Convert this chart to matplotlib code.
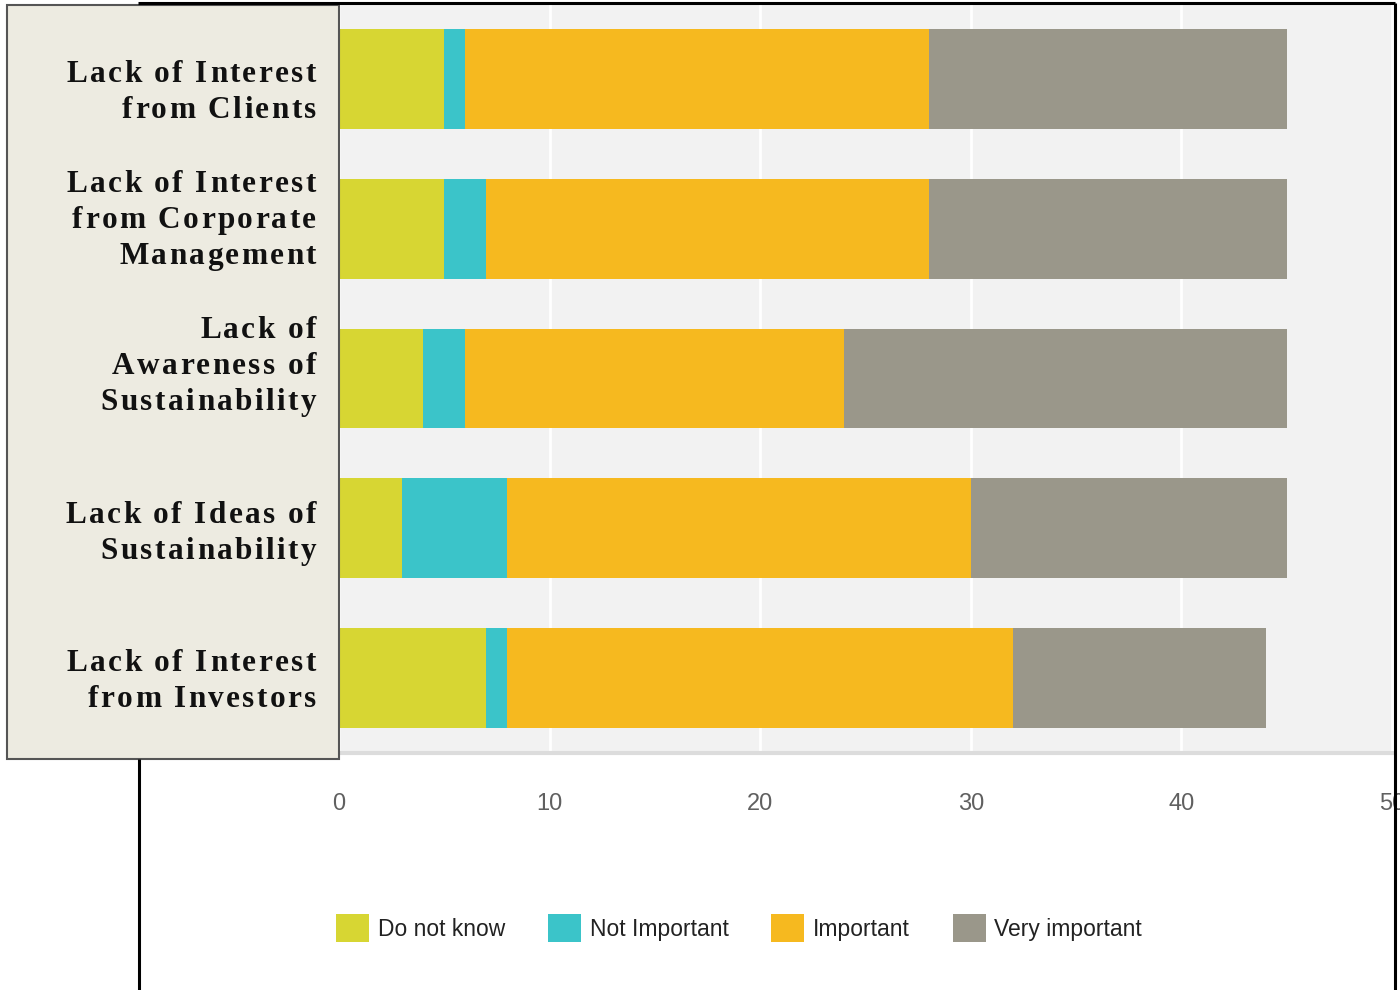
import matplotlib
matplotlib.use('Agg')
import matplotlib.pyplot as plt
from matplotlib.patches import Rectangle, Patch
from matplotlib.font_manager import FontProperties, findfont
from matplotlib.ft2font import FT2Font
import numpy as np

# data
categories = ['Lack of Interest\nfrom Clients',
              'Lack of Interest\nfrom Corporate\nManagement',
              'Lack of\nAwareness of\nSustainability',
              'Lack of Ideas of\nSustainability',
              'Lack of Interest\nfrom Investors']
series = ['Do not know', 'Not Important', 'Important', 'Very important']
do_not_know = [5, 5, 4, 3, 7]
not_important = [1, 2, 2, 5, 1]
important = [22, 21, 18, 22, 24]
very_important = [17, 17, 21, 15, 12]
colors = ['#d7d633', '#3bc4c9', '#f6b91f', '#9a978a']
xticks = [0, 10, 20, 30, 40, 50]

W, H = 1400, 990
sans = ['Liberation Sans Narrow', 'Liberation Sans', 'DejaVu Sans']

fig = plt.figure(figsize=(W / 100, H / 100), dpi=100)
fig.patch.set_facecolor('white')

# main plot area
ax = fig.add_axes([339 / W, 1 - 753 / H, 1053 / W, 749 / H])
ax.set_facecolor('#f2f2f2')
y = np.arange(len(categories))
left = np.zeros(len(categories))
for vals, c in zip([do_not_know, not_important, important, very_important], colors):
    ax.barh(y, vals, left=left, height=0.667, color=c, zorder=3)
    left += np.array(vals)

ax.set_xlim(0, 50)
ax.set_ylim(4.5, -0.5)
ax.set_yticks([])
ax.set_xticks(xticks)
ax.set_xticklabels([str(t) for t in xticks], family=sans, fontsize=17, color='#606060')
ax.tick_params(axis='x', length=0, pad=29)
ax.xaxis.grid(True, color='white', lw=2, zorder=1)
for s in ['top', 'right', 'left']:
    ax.spines[s].set_visible(False)
ax.spines['bottom'].set_color('#dcdcdc')
ax.spines['bottom'].set_linewidth(3)

# overlay in pixel coords for the label panel and the frame
pax = fig.add_axes([0, 0, 1, 1], facecolor='none')
pax.set_xlim(0, W)
pax.set_ylim(H, 0)
pax.axis('off')

pax.add_patch(Rectangle((7, 5), 332, 754, facecolor='#edebe1',
                        edgecolor='#555555', lw=1.5, zorder=2))
pax.plot([138, 1395], [3, 3], color='black', lw=2.2, solid_capstyle='butt')
pax.plot([1395, 1395], [3, H], color='black', lw=2.2, solid_capstyle='butt')
pax.plot([139, 139], [759, H], color='black', lw=2.2, solid_capstyle='butt')

# letter-spaced bold serif labels
serif = FontProperties(family='Liberation Serif', weight='bold', size=22.5)
ft = FT2Font(findfont(serif))
ft.set_size(22.5, 100)


def advance(ch):
    g = ft.load_char(ord(ch))
    return g.linearHoriAdvance / 65536.0


def spaced_text(s, xr, yb, track=2.4):
    adv = [advance(ch) for ch in s]
    x = xr - sum(adv) - track * (len(s) - 1)
    for ch, a in zip(s, adv):
        if ch != ' ':
            pax.text(x, yb, ch, fontproperties=serif, ha='left', va='baseline',
                     color='#111111', zorder=3)
        x += a + track


first_baselines = [82, 192, 338, 523, 671]
for lab, b in zip(categories, first_baselines):
    for k, line in enumerate(lab.split('\n')):
        spaced_text(line, 316, b + 36 * k)

# legend
handles = [Patch(facecolor=c, edgecolor='none') for c in colors]
leg = fig.legend(handles, series, loc='center', bbox_to_anchor=(739 / W, 1 - 928 / H),
                 ncol=4, frameon=False, prop=FontProperties(family=sans, size=16.5),
                 handlelength=1.45, handleheight=1.45, handletextpad=0.38,
                 columnspacing=1.86)
for t in leg.get_texts():
    t.set_color('#222222')

fig.savefig('out.png', dpi=100)
